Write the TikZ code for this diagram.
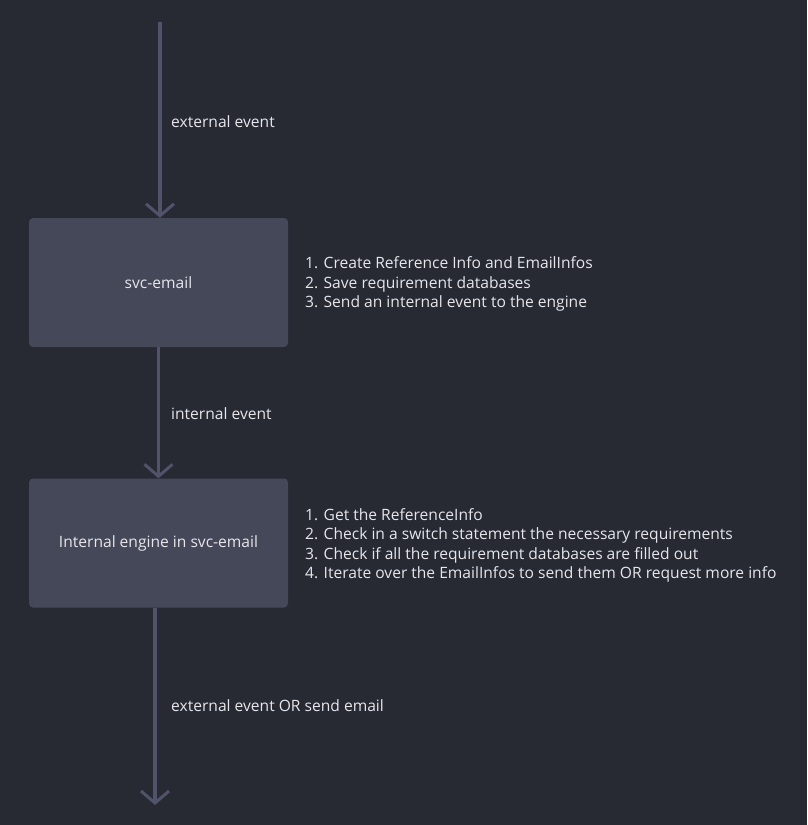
\documentclass[tikz,border=0pt]{standalone}
\usepackage{fontspec}
\setmainfont{Open Sans}
\usetikzlibrary{arrows.meta}

\definecolor{bgdark}{HTML}{272933}
\definecolor{boxfill}{HTML}{454858}
\definecolor{arrowgray}{HTML}{50536A}
\definecolor{textlight}{HTML}{E6E6EC}

\tikzset{
    stepbox/.style={fill=boxfill, rounded corners=4pt, minimum width=259pt, minimum height=129pt, inner sep=0pt, text=textlight, font=\fontsize{15.6}{19}\selectfont},
    flow/.style={draw=arrowgray, line width=3.5pt, -{Straight Barb[length=12pt,width=28pt,line width=3pt]}},
    notes/.style={anchor=west, align=left, text=textlight, inner sep=0pt, font=\fontsize{15.6}{19.5}\selectfont},
    edgelabel/.style={anchor=west, text=textlight, inner sep=0pt, font=\fontsize{15.6}{19}\selectfont}
}

\begin{document}
\begin{tikzpicture}[x=1pt, y=-1pt]
    \fill[bgdark] (0,0) rectangle (807,825);
    \useasboundingbox (0,0) rectangle (807,825);

    \coordinate (top) at (160,22);
    \coordinate (bottom) at (155,805);

    \node [stepbox] (email) at (158.5,282.5) {svc-email};
    \node [stepbox] (engine) at (158.5,543) {Internal engine in svc-email};

    \draw [flow] (top) -- (email.north -| top);
    \draw [flow] (email.south) -- (engine.north);
    \draw [flow] (engine.south -| bottom) -- (bottom);

    \node [edgelabel] (extin) at (171,121.5) {external event};
    \node [edgelabel] (intev) at (171,414) {internal event};
    \node [edgelabel] (extout) at (171,706) {external event OR send email};

    \node [notes] (emailsteps) at (305,284) {1. Create Reference Info and EmailInfos\\2. Save requirement databases\\3. Send an internal event to the engine};
    \node [notes] (enginesteps) at (305,545.5) {1. Get the ReferenceInfo\\2. Check in a switch statement the necessary requirements\\3. Check if all the requirement databases are filled out\\4. Iterate over the EmailInfos to send them OR request more info};
\end{tikzpicture}
\end{document}
